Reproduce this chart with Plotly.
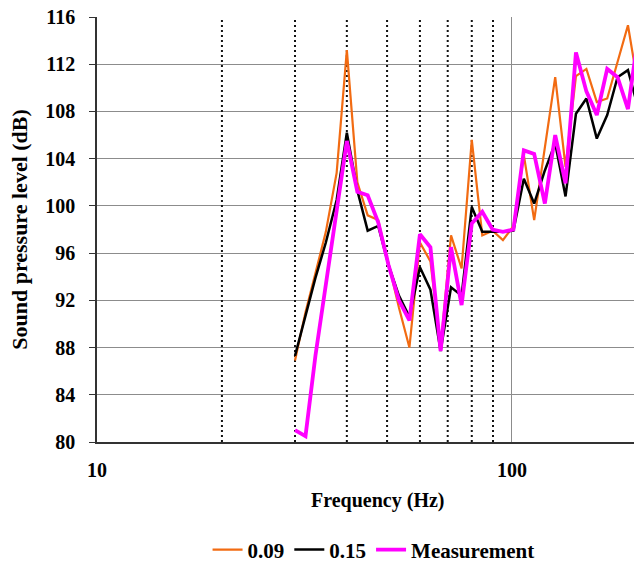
import plotly.graph_objects as go

# 1/12-octave frequencies (Hz)
freq = [30, 31.8, 33.6, 35.6, 37.8, 40, 42.4, 44.9, 47.6, 50.4, 53.4, 56.6,
        60, 63.6, 67.3, 71.3, 75.6, 80, 84.8, 89.8, 95.1, 100.8, 106.8, 113.1,
        120, 127.1, 134.6, 142.6, 151.1, 160.1, 169.6, 179.6, 190.3, 201.6]

spl_009 = [86.9, 91.0, 94.3, 97.8, 102.8, 113.2, 102.0, 99.2, 98.8, 95.0, 91.4, 88.0,
           96.9, 95.3, 88.0, 97.5, 94.7, 105.6, 97.5, 97.9, 97.1, 98.3, 104.3, 98.8,
           105.0, 110.9, 103.3, 111.0, 111.6, 108.8, 109.1, 112.3, 115.3, 110.0]

spl_015 = [87.3, 90.7, 93.9, 96.9, 100.5, 106.2, 101.3, 97.9, 98.3, 95.0, 92.4, 90.6,
           94.8, 92.9, 87.7, 93.1, 92.4, 99.9, 97.8, 97.8, 97.8, 97.9, 102.3, 100.2,
           103.0, 105.3, 100.8, 107.8, 109.1, 105.7, 107.7, 110.9, 111.5, 108.2]

spl_meas = [81.0, 80.5, 87.3, 93.3, 99.4, 105.5, 101.2, 100.9, 98.6, 95.0, 92.0, 90.3,
            97.6, 96.5, 87.7, 96.5, 91.6, 98.5, 99.5, 98.0, 97.8, 98.0, 104.7, 104.4,
            100.2, 106.0, 101.9, 113.0, 109.7, 107.7, 111.6, 110.9, 108.2, 114.5]

mode_freqs = [20, 30, 40, 50, 60, 70, 80, 90]
y_ticks = [80, 84, 88, 92, 96, 100, 104, 108, 112, 116]
x_ticks = [10, 100]

FONT = "Liberation Serif"

fig = go.Figure()

for f in mode_freqs:
    fig.add_trace(go.Scatter(x=[f, f], y=[y_ticks[0], y_ticks[-1]], mode="lines",
                             line=dict(color="#111111", width=2, dash="2px,3px"),
                             showlegend=False, hoverinfo="skip"))

fig.add_trace(go.Scatter(x=freq, y=spl_009, mode="lines", name="0.09",
                         line=dict(color="#F26B12", width=2.2)))
fig.add_trace(go.Scatter(x=freq, y=spl_015, mode="lines", name="0.15",
                         line=dict(color="#000000", width=2.5)))
fig.add_trace(go.Scatter(x=freq, y=spl_meas, mode="lines", name="Measurement",
                         line=dict(color="#FF00FF", width=3.8)))

fig.update_layout(
    width=634, height=568,
    margin=dict(l=97, r=0, t=17, b=126, autoexpand=False),
    paper_bgcolor="white", plot_bgcolor="white",
    font=dict(family=FONT, size=20, color="black", weight="bold"),
    showlegend=True,
    legend=dict(orientation="h", x=0.515, xanchor="center", y=-0.254, yanchor="middle",
                font=dict(family=FONT, size=21, color="black", weight="bold"),
                itemwidth=30, tracegroupgap=0, bgcolor="rgba(0,0,0,0)"),
    xaxis=dict(type="log", range=[1, 2.294], tickvals=x_ticks, ticktext=[str(v) for v in x_ticks],
               showgrid=True, gridcolor="#8c8c8c", gridwidth=1.2, automargin=False,
               showline=True, linecolor="#333333", linewidth=1.5, ticks="",
               ticklabelstandoff=9, zeroline=False,
               tickfont=dict(family=FONT, size=20, weight="bold")),
    yaxis=dict(range=[80, 116], tickvals=y_ticks, showgrid=True, gridcolor="#8c8c8c",
               gridwidth=1.2, showline=True, linecolor="#333333", linewidth=1.5,
               ticks="outside", ticklen=6, tickcolor="#333333", ticklabelstandoff=10,
               zeroline=False, automargin=False,
               tickfont=dict(family=FONT, size=20, weight="bold"),
               title=dict(text="Sound pressure level (dB)", standoff=12,
                          font=dict(family=FONT, size=22, weight="bold"))),
    annotations=[dict(text="Frequency (Hz)", xref="paper", yref="paper",
                      x=0.523, y=-0.137, xanchor="center", yanchor="middle",
                      showarrow=False, font=dict(family=FONT, size=20, weight="bold"))],
)

# remove the browser's default 8px body margin so the figure fills the window
fig.write_html("out.html", config={"displayModeBar": False},
               post_script="document.body.style.margin='0';")
